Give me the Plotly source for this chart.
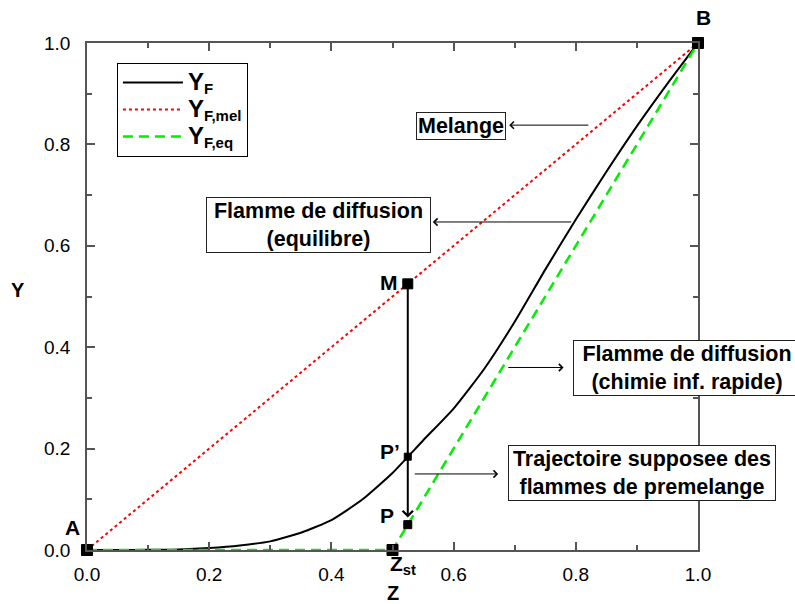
import plotly.graph_objects as go

# ---- data ----
z_f = [0, 0.05, 0.1, 0.15, 0.2, 0.25, 0.3, 0.35, 0.4, 0.45, 0.5, 0.55, 0.6,
       0.65, 0.7, 0.75, 0.8, 0.85, 0.9, 0.95, 1.0]
y_f = [0, 0, 0.0003, 0.001, 0.004, 0.009, 0.017, 0.034, 0.059, 0.099, 0.152,
       0.216, 0.279, 0.357, 0.45, 0.553, 0.652, 0.746, 0.836, 0.92, 1.0]

z_mel = [0.0, 1.0]
y_mel = [0.0, 1.0]

z_eq = [0.0, 0.5, 1.0]
y_eq = [0.0, 0.0, 1.0]

pt_names = ["A", "B", "Z<sub>st</sub>", "M", "P’", "P"]
pt_z = [0.0, 1.0, 0.5, 0.525, 0.525, 0.525]
pt_y = [0.0, 1.0, 0.0, 0.525, 0.184, 0.05]
pt_size = [11, 11, 11, 10, 7, 8]
pt_dx = [-15, 5, 10, -19, -18, -21]
pt_dy = [23, 26, -15, 1, 5, 9]

x_ticks = [0.0, 0.2, 0.4, 0.6, 0.8, 1.0]
y_ticks = [0.0, 0.2, 0.4, 0.6, 0.8, 1.0]

FONT = "Liberation Sans, Arial, sans-serif"


def leg(sub):
    return ('<span style="font-size:24px">Y</span><sub><span style="font-size:15px">'
            + sub + '</span></sub>')


fig = go.Figure()
fig.add_trace(go.Scatter(x=z_f, y=y_f, mode="lines", name=leg("F"),
                         line=dict(color="black", width=2, shape="spline", smoothing=0.5)))
fig.add_trace(go.Scatter(x=z_mel, y=y_mel, mode="lines", name=leg("F,mel"),
                         line=dict(color="#ff0000", width=2, dash="dot")))
fig.add_trace(go.Scatter(x=z_eq, y=y_eq, mode="lines", name=leg("F,eq"),
                         line=dict(color="#00ee00", width=2.5, dash="10px,6px")))
fig.add_trace(go.Scatter(x=pt_z, y=pt_y, mode="markers", showlegend=False,
                         marker=dict(symbol="square", size=pt_size, color="black", opacity=1,
                                     line=dict(color="black", width=1)),
                         cliponaxis=False))

annotations = []
lbl_font = dict(family=FONT, size=21, color="black", weight="bold")
# point labels
for name, zx, yy, dx, dy in zip(pt_names, pt_z, pt_y, pt_dx, pt_dy):
    annotations.append(dict(x=zx, y=yy, xref="x", yref="y", text=name, showarrow=False,
                            xanchor="center", yanchor="middle",
                            xshift=dx, yshift=dy, font=lbl_font))

# vertical arrow M -> P
annotations.append(dict(x=0.525, y=0.064, ax=0.525, ay=0.525, xref="x", yref="y",
                        axref="x", ayref="y", text="", showarrow=True, arrowhead=4,
                        arrowwidth=2, arrowsize=1, arrowcolor="black", standoff=0))

box_font = dict(family=FONT, size=21.5, color="black", weight="bold")
labels = [
    # text, box center (x, y), arrow head (x,y), arrow tail (x,y), width
    ("Melange", 0.612, 0.836, 0.691, 0.838, 0.823, 0.838, None),
    ("Flamme de diffusion<br>(equilibre)", 0.379, 0.642, 0.566, 0.647, 0.795, 0.647, 221),
    ("Flamme de diffusion<br>(chimie inf. rapide)", 0.982, 0.358, 0.78, 0.36, 0.687, 0.36, 224),
    ("Trajectoire supposee des<br>flammes de premelange", 0.908, 0.151, 0.673, 0.15, 0.534, 0.15, 264),
]
for txt, bx, by, hx, hy, tx, ty, w in labels:
    a = dict(x=bx, y=by, xref="x", yref="y", text=txt, showarrow=False,
             xanchor="center", yanchor="middle",
             font=box_font, bordercolor="#222", borderwidth=1, borderpad=1,
             bgcolor="white", align="center")
    if w:
        a["width"] = w
    annotations.append(a)
    annotations.append(dict(x=hx, y=hy, ax=tx, ay=ty, xref="x", yref="y",
                            axref="x", ayref="y", text="", showarrow=True, arrowhead=4,
                            arrowwidth=1, arrowsize=1.4, arrowcolor="black", standoff=0))

# axis titles
annotations.append(dict(x=-0.113, y=0.513, xref="paper", yref="paper", text="Y",
                        xanchor="center", yanchor="middle",
                        showarrow=False, font=dict(family=FONT, size=20, color="black", weight="bold")))
annotations.append(dict(x=0.5, y=-0.085, xref="paper", yref="paper", text="Z",
                        xanchor="center", yanchor="middle",
                        showarrow=False, font=dict(family=FONT, size=20, color="black", weight="bold")))

axis_common = dict(range=[0, 1], showgrid=False, zeroline=False, showline=True,
                   linecolor="#555", linewidth=1.5, mirror="ticks", ticks="inside",
                   ticklen=8, tickwidth=1.5, tickcolor="#555", tickformat=".1f",
                   tickfont=dict(family=FONT, size=19, color="black"),
                   minor=dict(dtick=0.1, ticks="inside", ticklen=5, tickcolor="#555", tickwidth=1.5))

fig.update_layout(
    width=795, height=604,
    margin=dict(l=87, r=97, t=43, b=54),
    paper_bgcolor="white", plot_bgcolor="white",
    xaxis=dict(tickvals=x_ticks, ticklabelstandoff=6, **axis_common),
    yaxis=dict(tickvals=y_ticks, ticklabelstandoff=11, **axis_common),
    legend=dict(x=0.049, y=0.9606, xanchor="left", yanchor="top",
                bgcolor="white", bordercolor="black", borderwidth=1,
                font=dict(family=FONT, size=18.5, color="black", weight="bold"),
                tracegroupgap=0, itemwidth=60),
    annotations=annotations,
    showlegend=True,
)

fig.write_html("out.html")
